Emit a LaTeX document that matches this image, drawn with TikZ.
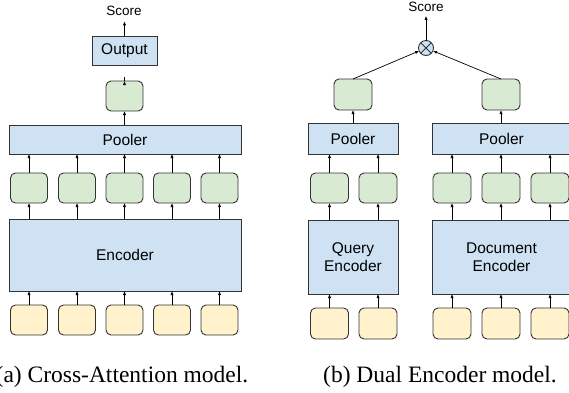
\documentclass[tikz,border=0pt]{standalone}
\usepackage{fontspec}
\setmainfont{Liberation Serif}
\newfontfamily\labelfont{Liberation Sans}
\usetikzlibrary{arrows.meta}

\definecolor{blockblue}{HTML}{CFE2F3}
\definecolor{vecgreen}{HTML}{D9EAD3}
\definecolor{tokyellow}{HTML}{FFF2CC}
\definecolor{edge}{HTML}{333333}

\tikzset{
  block/.style={draw=edge, line width=0.9pt, fill=blockblue, inner sep=0pt, outer sep=0pt,
    font=\labelfont\fontsize{15.5}{18}\selectfont, align=center},
  vec/.style={draw=edge, line width=0.9pt, fill=vecgreen, rounded corners=5pt,
    inner sep=0pt, outer sep=0pt, minimum width=37pt, minimum height=30pt},
  tok/.style={vec, fill=tokyellow},
  scoretext/.style={font=\labelfont\fontsize{13.5}{15}\selectfont, inner sep=0pt, anchor=base},
  captext/.style={font=\fontsize{23.5}{26}\selectfont, inner sep=0pt, anchor=base},
  arr/.style={line width=0.7pt, -{Latex[length=4pt,width=3.2pt]}},
  mulnode/.style={circle, draw=edge, line width=0.9pt, fill=blockblue, minimum size=15pt,
    inner sep=0pt, outer sep=0pt}
}

\begin{document}
\begin{tikzpicture}[x=1pt, y=-1pt]
\clip (0,0) rectangle (569,392);
\fill[white] (0,0) rectangle (569,392);

% ---------- (a) cross-attention ----------
\node[scoretext] (scoreA) at (124,15) {Score};
\node[block, minimum width=65pt, minimum height=29pt] (outA) at (124.5,50.5) {Output};
\node[vec] (gA) at (124.5,96) {};
\node[block, minimum width=232pt, minimum height=29pt] (poolA) at (125,139.5) {Pooler};
\node[block, minimum width=232pt, minimum height=72pt] (encA) at (125,255) {Encoder};
\foreach \i/\x in {1/29,2/77,3/124.5,4/172,5/219.5}{
  \node[vec] (gA\i) at (\x,188) {};
  \node[tok] (yA\i) at (\x,320) {};
  \draw[arr] (yA\i.north) -- (yA\i.north |- encA.south);
  \draw[arr] (gA\i.south |- encA.north) -- (gA\i.south);
  \draw[arr] (gA\i.north) -- (gA\i.north |- poolA.south);
}
\draw[arr] (gA.south |- poolA.north) -- (gA.south);
\draw[arr] (gA.north) -- (gA.north -| outA.south);
\draw[arr, shorten >=6pt] (outA.north) -- (outA.north |- scoreA.south);
\node[captext] (capA) at (122,382) {(a) Cross-Attention model.};

% ---------- (b) dual encoder ----------
\node[scoretext] (scoreB) at (426,11.5) {Score};
\node[mulnode] (mul) at (426,48) {};
\draw[edge, line width=0.8pt] (mul.north west) -- (mul.south east)
                              (mul.north east) -- (mul.south west);
\draw[arr, shorten >=4pt] (mul.north) -- (mul.north |- scoreB.south);

\node[vec, minimum width=38pt, minimum height=31pt] (gB1) at (353,94.5) {};
\node[vec, minimum width=38pt, minimum height=31pt] (gB2) at (501,94.5) {};
\draw[arr] (gB1.north) -- (mul);
\draw[arr] (gB2.north) -- (mul);

\node[block, minimum width=90pt, minimum height=31pt] (poolB1) at (353,138.5) {Pooler};
\node[block, minimum width=139pt, minimum height=31pt] (poolB2) at (501.5,138.5) {Pooler};
\draw[arr] (gB1.south |- poolB1.north) -- (gB1.south);
\draw[arr] (gB2.south |- poolB2.north) -- (gB2.south);

\node[block, minimum width=90pt, minimum height=74pt] (encB1) at (353,257) {Query\\Encoder};
\node[block, minimum width=139pt, minimum height=74pt] (encB2) at (501.5,257) {Document\\Encoder};

\foreach \i/\x/\p in {1/329.5/1,2/378/1,3/452/2,4/501/2,5/550/2}{
  \node[vec, minimum width=38pt] (gQ\i) at (\x,188) {};
  \node[tok, minimum width=38pt, minimum height=31pt] (yQ\i) at (\x,323.5) {};
  \draw[arr] (yQ\i.north) -- (yQ\i.north |- encB\p.south);
  \draw[arr] (gQ\i.south |- encB\p.north) -- (gQ\i.south);
  \draw[arr] (gQ\i.north) -- (gQ\i.north |- poolB\p.south);
}
\node[captext] (capB) at (440,382) {(b) Dual Encoder model.};
\end{tikzpicture}
\end{document}
